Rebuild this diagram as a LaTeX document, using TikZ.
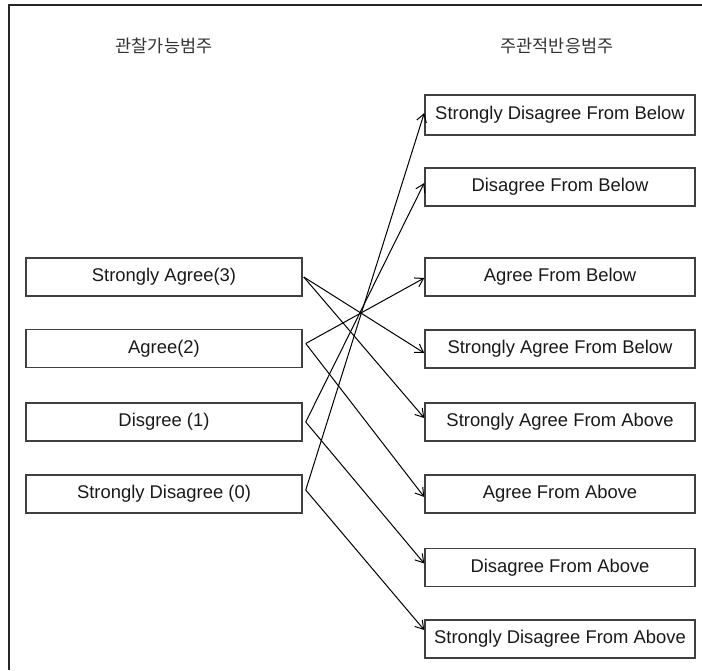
\documentclass[tikz,border=0pt]{standalone}
\usepackage{fontspec}
\setmainfont{Liberation Sans}
\newfontfamily\kr{Noto Sans CJK KR}
\usetikzlibrary{arrows.meta}
\begin{document}
\begin{tikzpicture}[x=1pt,y=-1pt,
  lbox/.style={draw=black!75,line width=1.5pt,minimum width=276pt,minimum height=38pt,inner sep=0pt,font=\fontsize{18.4}{20}\selectfont,text=black!90},
  rbox/.style={draw=black!75,line width=1.5pt,minimum width=270pt,minimum height=38pt,inner sep=0pt,font=\fontsize{18.4}{20}\selectfont,text=black!90},
  title/.style={font=\kr\fontsize{17.5}{20}\selectfont,text=black!80,inner sep=0pt},
  conn/.style={line width=1pt,-{Straight Barb[length=8pt,width=10pt,line width=1pt]}}]
\useasboundingbox (0,0) rectangle (702,670);
\draw[line width=1.5pt,black!85] (9,670) -- (9,5) -- (702,5);
\node[title] (t1) at (164,46) {관찰가능범주};
\node[title] (t2) at (557,46) {주관적반응범주};
% left
\node[lbox] (l3) at (164,277) {Strongly Agree(3)};
\node[lbox] (l2) at (164,348.5) {Agree(2)};
\node[lbox] (l1) at (164,422) {Disgree (1)};
\node[lbox] (l0) at (164,494) {Strongly Disagree (0)};
% right
\node[rbox,minimum height=40pt] (r1) at (560,115) {Strongly Disagree From Below};
\node[rbox] (r2) at (560,187) {Disagree From Below};
\node[rbox] (r3) at (560,277) {Agree From Below};
\node[rbox] (r4) at (560,349) {Strongly Agree From Below};
\node[rbox] (r5) at (560,422) {Strongly Agree From Above};
\node[rbox] (r6) at (560,494) {Agree From Above};
\node[rbox] (r7) at (560,567.5) {Disagree From Above};
\node[rbox] (r8) at (560,639) {Strongly Disagree From Above};
% connectors
\draw[conn] ([xshift=1pt]l3.east) -- ([yshift=-4pt]r4.west);
\draw[conn] ([xshift=1pt]l3.east) -- ([yshift=4pt]r5.west);
\draw[conn] ([xshift=3pt,yshift=5pt]l2.east) -- ([yshift=-1pt]r3.west);
\draw[conn] ([xshift=3pt,yshift=5pt]l2.east) -- ([yshift=-3pt]r6.west);
\draw[conn] ([xshift=3pt]l1.east) -- ([yshift=4pt]r2.west);
\draw[conn] ([xshift=3pt]l1.east) -- ([yshift=4pt]r7.west);
\draw[conn] ([xshift=3pt,yshift=4pt]l0.east) -- ([yshift=2pt]r1.west);
\draw[conn] ([xshift=3pt,yshift=4pt]l0.east) -- ([yshift=9pt]r8.west);
\end{tikzpicture}
\end{document}
